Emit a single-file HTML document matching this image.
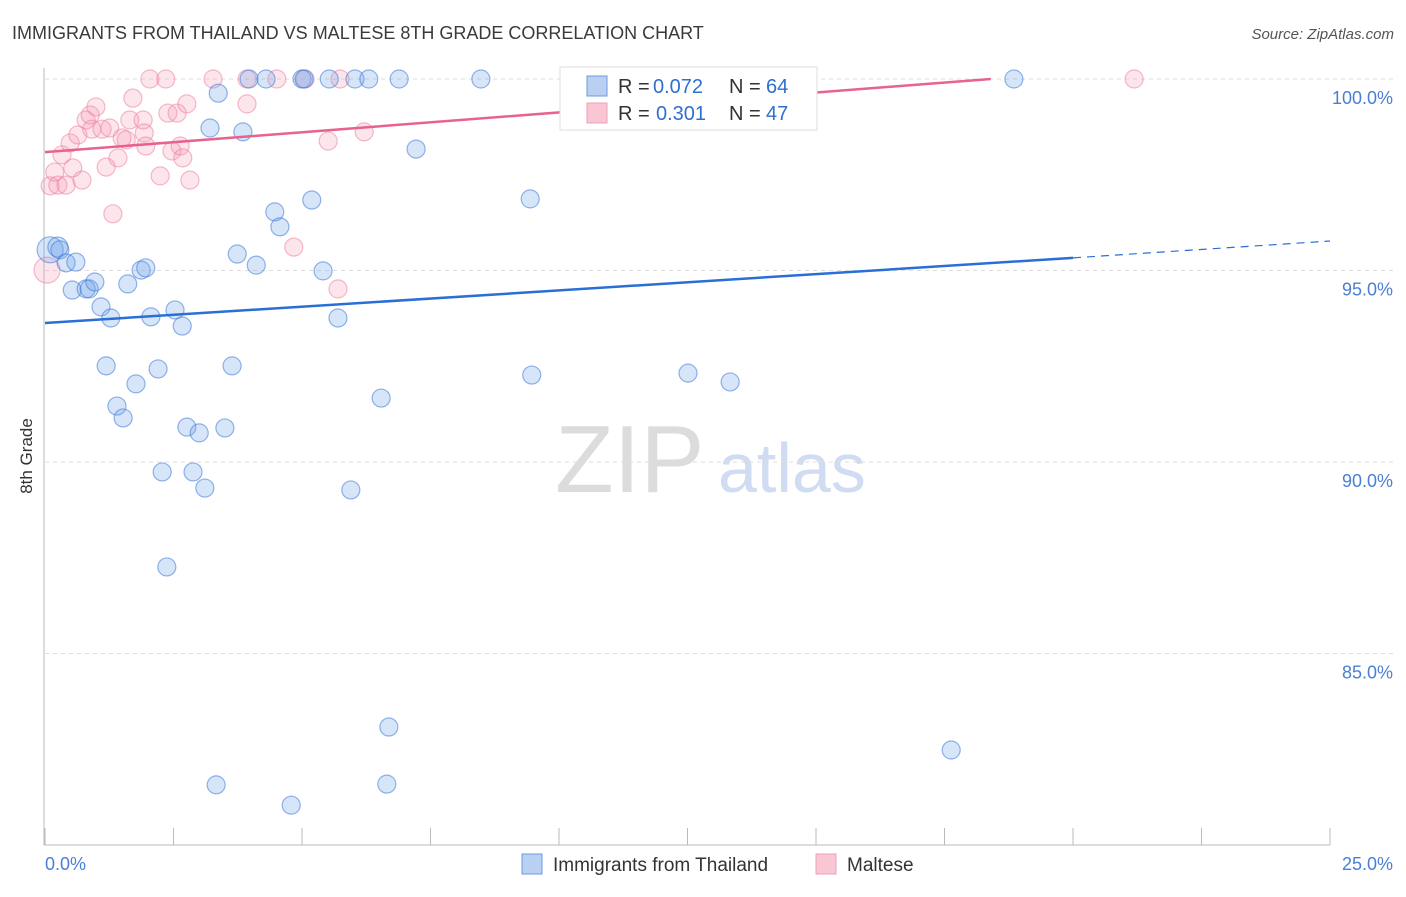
<!DOCTYPE html>
<html><head><meta charset="utf-8"><style>
body{margin:0;background:#fff;font-family:"Liberation Sans",sans-serif}
svg text{font-family:"Liberation Sans",sans-serif}
</style></head><body>
<svg id="chart" width="1406" height="892">
<text x="12" y="39" font-size="18" fill="#3a3a3a">IMMIGRANTS FROM THAILAND VS MALTESE 8TH GRADE CORRELATION CHART</text>
<text x="1394" y="39" font-size="15" fill="#555" text-anchor="end" font-style="italic">Source: ZipAtlas.com</text>
<text x="32" y="456" font-size="17" fill="#333" text-anchor="middle" transform="rotate(-90 32 456)">8th Grade</text>
<text x="555" y="492" font-size="96" fill="#dcdcdc" font-family="Liberation Serif">ZIP</text>
<text x="718" y="492" font-size="70" fill="#cfdcf2">atlas</text>
<g id="grid"></g><g id="axes"></g><g id="pts"></g><g id="lines"></g>
<g>
<rect x="560" y="67" width="257" height="63" fill="#fff" stroke="#ddd"/>
<rect x="587" y="76" width="20" height="20" fill="#b9d0f3" stroke="#6b9be0"/>
<text x="618" y="93" font-size="20" fill="#333">R =</text>
<text x="653" y="93" font-size="20" fill="#2e6fd1">0.072</text>
<text x="729" y="93" font-size="20" fill="#333">N =</text>
<text x="766" y="93" font-size="20" fill="#2e6fd1">64</text>
<rect x="587" y="103" width="20" height="20" fill="#f9c6d4" stroke="#f0a0b8"/>
<text x="618" y="120" font-size="20" fill="#333">R =</text>
<text x="656" y="120" font-size="20" fill="#2e6fd1">0.301</text>
<text x="729" y="120" font-size="20" fill="#333">N =</text>
<text x="766" y="120" font-size="20" fill="#2e6fd1">47</text>
</g>
<g>
<rect x="522" y="854" width="20" height="20" fill="#b9d0f3" stroke="#6b9be0"/>
<text x="553" y="871" font-size="19" fill="#333">Immigrants from Thailand</text>
<rect x="816" y="854" width="20" height="20" fill="#f9c6d4" stroke="#f0a0b8"/>
<text x="847" y="871" font-size="19" fill="#333">Maltese</text>
</g>
<text x="45" y="870" font-size="18" fill="#4a7fd4">0.0%</text>
<text x="1393" y="870" font-size="18" fill="#4a7fd4" text-anchor="end">25.0%</text>
</svg>
<script>
const yTicks=[100,95,90,85];
const yTickLabels=["100.0%","95.0%","90.0%","85.0%"];
const xTicks=[0,2.5,5,7.5,10,12.5,15,17.5,20,22.5,25];
const thX=[0.10,0.25,0.29,0.41,0.60,0.53,0.80,0.86,0.97,1.09,1.28,1.19,1.61,1.87,1.96,1.77,1.40,1.52,2.06,2.20,2.28,2.37,2.53,2.67,2.76,2.88,3.00,3.11,3.21,3.37,3.50,3.64,3.74,3.85,3.97,4.11,4.30,4.47,4.57,5.00,5.04,5.19,5.41,5.53,5.70,5.95,6.03,6.30,6.54,6.69,6.65,6.89,7.22,8.48,9.44,9.47,11.46,12.51,12.86,13.33,17.63,18.85,3.33,4.79];
const thY=[95.54,95.61,95.54,95.20,95.22,94.49,94.52,94.52,94.70,94.05,93.76,92.51,94.65,95.01,95.07,92.04,91.46,91.15,93.79,92.43,89.74,87.26,93.97,93.55,90.91,89.74,90.76,89.32,98.72,99.63,90.89,92.51,95.43,98.62,100,95.14,100,96.53,96.14,100,100,96.84,94.99,100,93.76,89.27,100,100,91.67,83.08,81.59,100,98.17,100,96.87,92.27,100,92.32,100,92.09,82.48,100,81.57,81.04];
const thR=[13,10,9,9,9,9,9,9,9,9,9,9,9,9,9,9,9,9,9,9,9,9,9,9,9,9,9,9,9,9,9,9,9,9,9,9,9,9,9,9,9,9,9,9,9,9,9,9,9,9,9,9,9,9,9,9,9,9,9,9,9,9,9,9];
const mtX=[0.04,0.10,0.25,0.19,0.33,0.41,0.49,0.54,0.64,0.72,0.80,0.88,0.91,0.99,1.11,1.19,1.26,1.32,1.42,1.50,1.58,1.65,1.71,1.91,1.93,1.96,2.04,2.24,2.35,2.39,2.47,2.57,2.63,2.68,2.76,2.82,3.27,3.93,3.93,4.51,5.06,4.84,5.51,5.70,5.74,6.21,21.19];
const mtY=[95.01,97.21,97.23,97.57,98.02,97.23,98.33,97.68,98.54,97.36,98.93,99.06,98.69,99.27,98.69,97.70,98.72,96.48,97.94,98.46,98.41,98.93,99.50,98.93,98.59,98.25,100,97.47,100,99.11,98.12,99.11,98.25,97.94,99.35,97.36,100,99.35,100,100,100,95.61,98.38,94.52,100,98.62,100];
const thTrend=[0,93.63,20,95.33,25,95.77];
const mtTrend=[0,98.09,18.4,100];
const X=v=>45+v/25*1285;
const Y=v=>79+(100-v)*38.3;
const NS="http://www.w3.org/2000/svg";
function mk(p,t,a){const e=document.createElementNS(NS,t);for(const k in a)e.setAttribute(k,a[k]);p.appendChild(e);return e;}
const grid=document.getElementById('grid'),axes=document.getElementById('axes'),pts=document.getElementById('pts'),lines=document.getElementById('lines');
yTicks.forEach((t,i)=>{
 const l=mk(grid,'line',{x1:45,x2:1395,y1:Y(t),y2:Y(t),stroke:'#ddd','stroke-dasharray':'4,4'});
 
 
 const tx=mk(grid,'text',{x:1393,y:Y(t)+25,'font-size':18,fill:'#4a7fd4','text-anchor':'end'});
 tx.textContent=yTickLabels[i];
 
 
});
const ax=mk(axes,'line',{x1:44,x2:44,y1:68,y2:845,stroke:'#bbb'});


const xx=mk(axes,'line',{x1:44,x2:1330,y1:845,y2:845,stroke:'#bbb'});


xTicks.forEach(t=>{
 const l=mk(axes,'line',{x1:X(t),x2:X(t),y1:828,y2:845,stroke:'#bbb'});
 
 
});
mtX.forEach((v,i)=>{
 const c=mk(pts,'circle',{cx:X(v),cy:Y(mtY[i]),r:i==0?13:9,fill:'rgba(245,150,175,0.25)',stroke:'rgba(236,130,160,0.55)','stroke-width':1.2});
 
 
});
thX.forEach((v,i)=>{
 const c=mk(pts,'circle',{cx:X(v),cy:Y(thY[i]),r:thR[i],fill:'rgba(110,160,235,0.28)',stroke:'rgba(60,120,215,0.55)','stroke-width':1.2});
 
 
});
const b1=mk(lines,'line',{x1:X(thTrend[0]),y1:Y(thTrend[1]),x2:X(thTrend[2]),y2:Y(thTrend[3]),stroke:'#2a6fd6','stroke-width':2.5});


const b2=mk(lines,'line',{x1:X(thTrend[2]),y1:Y(thTrend[3]),x2:X(thTrend[4]),y2:Y(thTrend[5]),stroke:'#2a6fd6','stroke-width':1.2,'stroke-dasharray':'8,6'});


const p1=mk(lines,'line',{x1:X(mtTrend[0]),y1:Y(mtTrend[1]),x2:X(mtTrend[2]),y2:Y(mtTrend[3]),stroke:'#e8628e','stroke-width':2.5});


</script>
</body></html>
